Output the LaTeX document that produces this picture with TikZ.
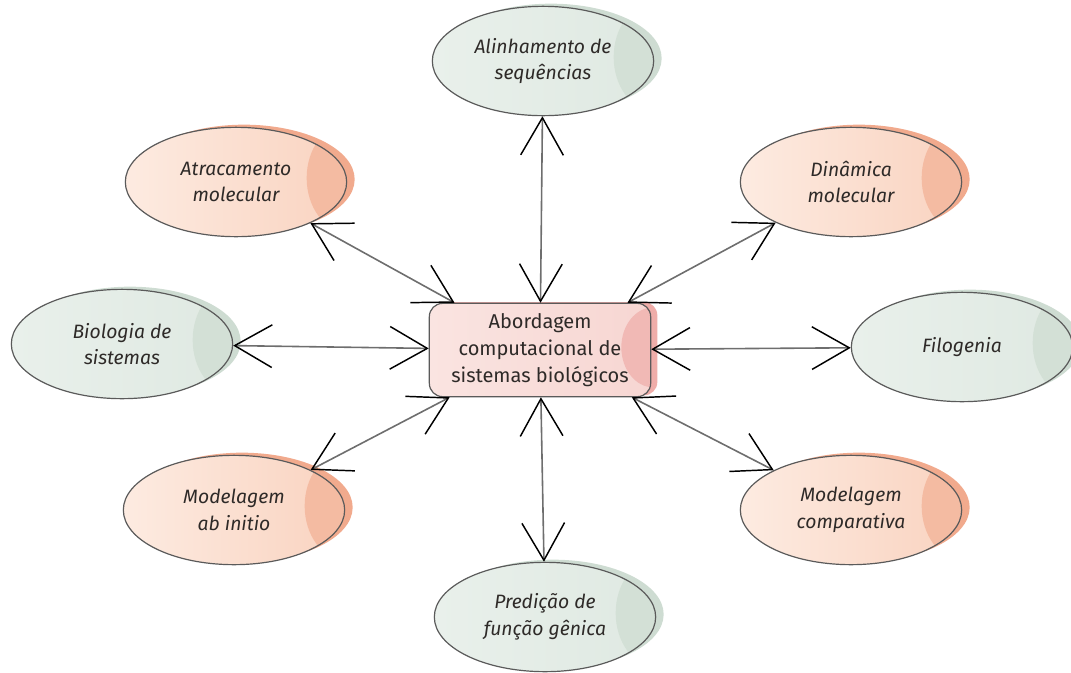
\documentclass[tikz,border=0pt]{standalone}
\usepackage{fontspec}
\setmainfont{Fira Sans}
\usetikzlibrary{shapes.geometric,arrows.meta,shadows}
\definecolor{bordc}{HTML}{5A5A5A}
\definecolor{txtc}{HTML}{2E2A28}
\definecolor{gA}{HTML}{E9F0EB}
\definecolor{gB}{HTML}{DFE9E2}
\definecolor{gC}{HTML}{CEDCD2}
\definecolor{gD}{HTML}{D3E0D6}
\definecolor{oA}{HTML}{FDEBE1}
\definecolor{oB}{HTML}{F9D3C0}
\definecolor{oC}{HTML}{F1AA8D}
\definecolor{oD}{HTML}{F4BBA2}
\definecolor{pA}{HTML}{FAE4E1}
\definecolor{pB}{HTML}{F7D6D2}
\definecolor{pC}{HTML}{EFADA9}
\definecolor{pD}{HTML}{F1B9B5}
\definecolor{shaftc}{HTML}{6E6E6E}
\begin{document}
\begin{tikzpicture}[x=0.75pt,y=-0.75pt,
  >={Straight Barb[length=28pt,width=32pt,line width=1.1pt,color=black]},
  bubble/.style={ellipse, draw=bordc, line width=0.9pt,
    minimum width=166pt, minimum height=82pt, inner sep=0pt,
    align=center, text=txtc,
    font=\fontsize{14.5}{20}\selectfont\itshape},
  greenbub/.style={bubble, left color=gA, right color=gB,
    general shadow={fill=gC, shadow xshift=6pt, shadow yshift=2pt},
    path picture={\fill[gD] ([xshift=0pt,yshift=3pt]path picture bounding box.east) ellipse (30pt and 40pt);}},
  orangebub/.style={bubble, left color=oA, right color=oB,
    general shadow={fill=oC, shadow xshift=6pt, shadow yshift=2pt},
    path picture={\fill[oD] ([xshift=0pt,yshift=3pt]path picture bounding box.east) ellipse (30pt and 40pt);}},
  centerbox/.style={rectangle, rounded corners=10pt, draw=bordc, line width=0.9pt,
    minimum width=166pt, minimum height=70pt, inner sep=0pt,
    align=center, text=txtc, left color=pA, right color=pB,
    general shadow={fill=pC, shadow xshift=5pt, shadow yshift=1pt},
    path picture={\fill[pD] ([xshift=2pt,yshift=2pt]path picture bounding box.east) ellipse (24pt and 30pt);},
    font=\fontsize{15}{20}\selectfont},
  conn/.style={<->, draw=shaftc, line width=1.2pt}
]
\useasboundingbox (0,0) rectangle (1071,672);

\node[centerbox] (c) at (540,350) {Abordagem\\computacional de\\sistemas biológicos};

\node[greenbub] (ali) at (543,61) {Alinhamento de\\sequências};
\node[orangebub] (atr) at (236,182) {Atracamento\\molecular};
\node[orangebub] (din) at (851,182) {Dinâmica\\molecular};
\node[greenbub] (bio) at (122,344) {Biologia de\\sistemas};
\node[greenbub] (fil) at (962,347) {Filogenia};
\node[orangebub] (abi) at (234,510) {Modelagem\\ab initio};
\node[orangebub] (comp) at (851,510) {Modelagem\\comparativa};
\node[greenbub] (pred) at (545,617) {Predição de\\função gênica};

\draw[conn] (c) -- (ali);
\draw[conn] (c) -- (atr);
\draw[conn] (c) -- (din);
\draw[conn] (c) -- (bio);
\draw[conn] (c) -- (fil);
\draw[conn] (c) -- (abi);
\draw[conn] (c) -- (comp);
\draw[conn] (c) -- (pred);
\end{tikzpicture}
\end{document}
